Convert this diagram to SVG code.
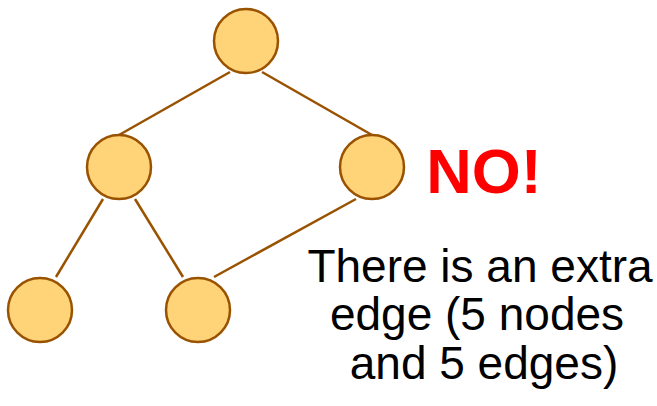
<svg xmlns="http://www.w3.org/2000/svg" width="657" height="406" viewBox="0 0 657 406">
<style>
.node{fill:#FFD378;stroke:#995200;stroke-width:2.5}
.edge{stroke:#995200;stroke-width:2.5;fill:none}
.t{font-family:"Liberation Sans",Arial,sans-serif;text-anchor:middle}
</style>
<rect width="657" height="406" fill="#fff"/>
<g id="edges">
<line class="edge" x1="230" y1="72" x2="119" y2="135"/>
<line class="edge" x1="262" y1="72" x2="372" y2="135"/>
<line class="edge" x1="103" y1="199" x2="56" y2="277"/>
<line class="edge" x1="135" y1="199" x2="183" y2="277"/>
<line class="edge" x1="356" y1="199" x2="214" y2="277"/>
</g>
<g id="n1"><circle class="node" cx="246" cy="41" r="32"/></g>
<g id="n2"><circle class="node" cx="119" cy="167" r="32"/></g>
<g id="n3"><circle class="node" cx="372" cy="167" r="32"/></g>
<g id="n4"><circle class="node" cx="40" cy="310" r="32"/></g>
<g id="n5"><circle class="node" cx="198" cy="310" r="32"/></g>
<text class="t" x="484" y="193" font-size="63" font-weight="bold" fill="#FF0000">NO!</text>
<g class="t" font-size="46" fill="#000">
<text x="480" y="282">There is an extra</text>
<text x="477" y="330">edge (5 nodes</text>
<text x="484" y="379">and 5 edges)</text>
</g>
</svg>
